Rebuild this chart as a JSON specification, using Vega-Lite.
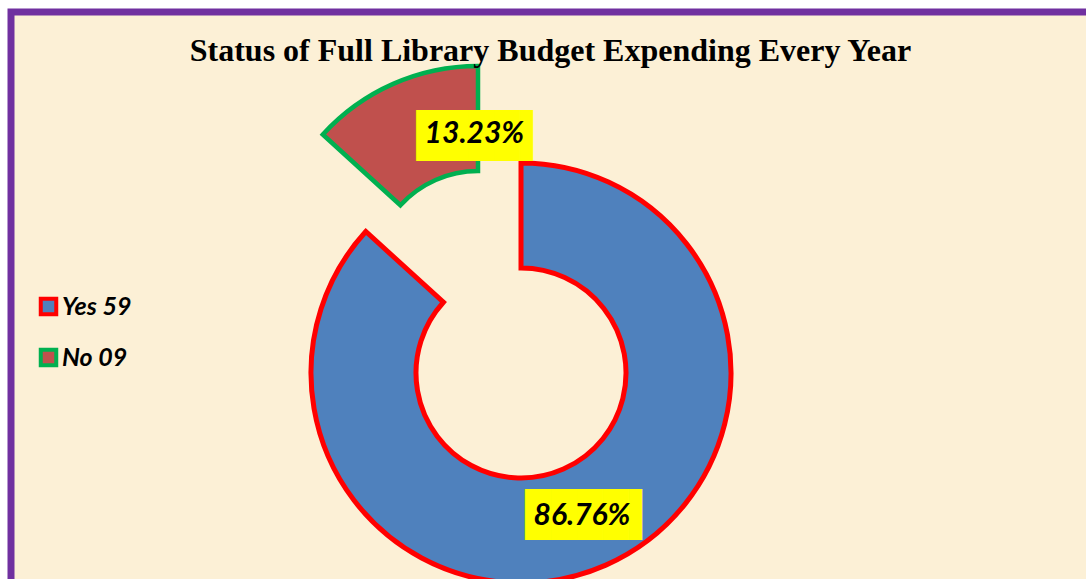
{
  "$schema": "https://vega.github.io/schema/vega-lite/v6.json",
  "width": 1075,
  "height": 567,
  "autosize": {"type": "none"},
  "padding": {"left": 11, "top": 12, "right": 0, "bottom": 0},
  "background": "white",
  "view": {"fill": "#FCF0D6", "stroke": "#7030A0", "strokeWidth": 7, "strokeDash": [1075, 1642, 577], "strokeCap": "square"},
  "title": {
    "text": "Status of Full Library Budget Expending Every Year",
    "font": "Liberation Serif",
    "fontSize": 32,
    "fontWeight": "bold",
    "color": "black",
    "anchor": "middle",
    "frame": "group",
    "baseline": "alphabetic",
    "offset": 0,
    "dx": 2,
    "dy": 81
  },
  "data": {
    "values": [
      {"response": "Yes 59", "count": 59, "share": "86.76%"},
      {"response": "No 09", "count": 9, "share": "13.23%"}
    ]
  },
  "encoding": {
    "theta": {"field": "count", "type": "quantitative", "stack": true},
    "order": {"field": "count", "type": "quantitative", "sort": "descending"}
  },
  "layer": [
    {
      "mark": {"type": "arc", "outerRadius": 210, "innerRadius": 105, "strokeWidth": 5, "xOffset": -27.5, "yOffset": 77.5},
      "encoding": {
        "color": {"field": "response", "type": "nominal", "scale": {"domain": ["Yes 59", "No 09"], "range": ["#4F81BD", "#C0504D"]},
          "legend": {"orient": "none", "legendX": 25, "legendY": 282, "title": null, "direction": "vertical", "symbolType": "square", "symbolSize": 240, "symbolStrokeWidth": 4, "labelFont": "Lato", "labelFontSize": 25, "labelFontStyle": "italic", "labelFontWeight": "bold", "labelColor": "black", "rowPadding": 18, "labelOffset": 1}},
        "stroke": {"field": "response", "type": "nominal", "scale": {"domain": ["Yes 59", "No 09"], "range": ["#FF0000", "#00B050"]},
          "legend": {"orient": "none", "legendX": 25, "legendY": 282, "title": null, "direction": "vertical", "symbolType": "square", "symbolSize": 240, "symbolStrokeWidth": 4, "labelFont": "Lato", "labelFontSize": 25, "labelFontStyle": "italic", "labelFontWeight": "bold", "labelColor": "black", "rowPadding": 18, "labelOffset": 1}},
        "opacity": {"condition": {"test": "datum.response === 'No 09'", "value": 0}, "value": 1}
      }
    },
    {
      "mark": {"type": "arc", "outerRadius": 210, "innerRadius": 105, "strokeWidth": 4.5, "xOffset": -70.5, "yOffset": -19.5},
      "encoding": {
        "color": {"field": "response", "type": "nominal"},
        "stroke": {"field": "response", "type": "nominal"},
        "opacity": {"condition": {"test": "datum.response === 'Yes 59'", "value": 0}, "value": 1}
      }
    },
    {
      "mark": {"type": "text", "radius": 156, "xOffset": -21.2, "yOffset": 77.5, "font": "DejaVu Sans Mono", "fontSize": 43, "color": "#FFFF00", "align": "center", "baseline": "middle"},
      "encoding": {
        "text": {"value": "████▌"},
        "opacity": {"condition": {"test": "datum.response === 'No 09'", "value": 0}, "value": 1}
      }
    },
    {
      "mark": {"type": "text", "radius": 156, "xOffset": -29.5, "yOffset": 77.5, "font": "Lato", "fontSize": 30, "fontStyle": "italic", "fontWeight": "bold", "color": "black", "align": "center", "baseline": "middle"},
      "encoding": {
        "text": {"field": "share", "type": "nominal"},
        "opacity": {"condition": {"test": "datum.response === 'No 09'", "value": 0}, "value": 1}
      }
    },
    {
      "mark": {"type": "text", "radius": 155, "xOffset": -4.5, "yOffset": -16.5, "font": "DejaVu Sans Mono", "fontSize": 43, "color": "#FFFF00", "align": "center", "baseline": "middle"},
      "encoding": {
        "text": {"value": "████▌"},
        "opacity": {"condition": {"test": "datum.response === 'Yes 59'", "value": 0}, "value": 1}
      }
    },
    {
      "mark": {"type": "text", "radius": 155, "xOffset": -11.5, "yOffset": -19.5, "font": "Lato", "fontSize": 30, "fontStyle": "italic", "fontWeight": "bold", "color": "black", "align": "center", "baseline": "middle"},
      "encoding": {
        "text": {"field": "share", "type": "nominal"},
        "opacity": {"condition": {"test": "datum.response === 'Yes 59'", "value": 0}, "value": 1}
      }
    }
  ]
}
